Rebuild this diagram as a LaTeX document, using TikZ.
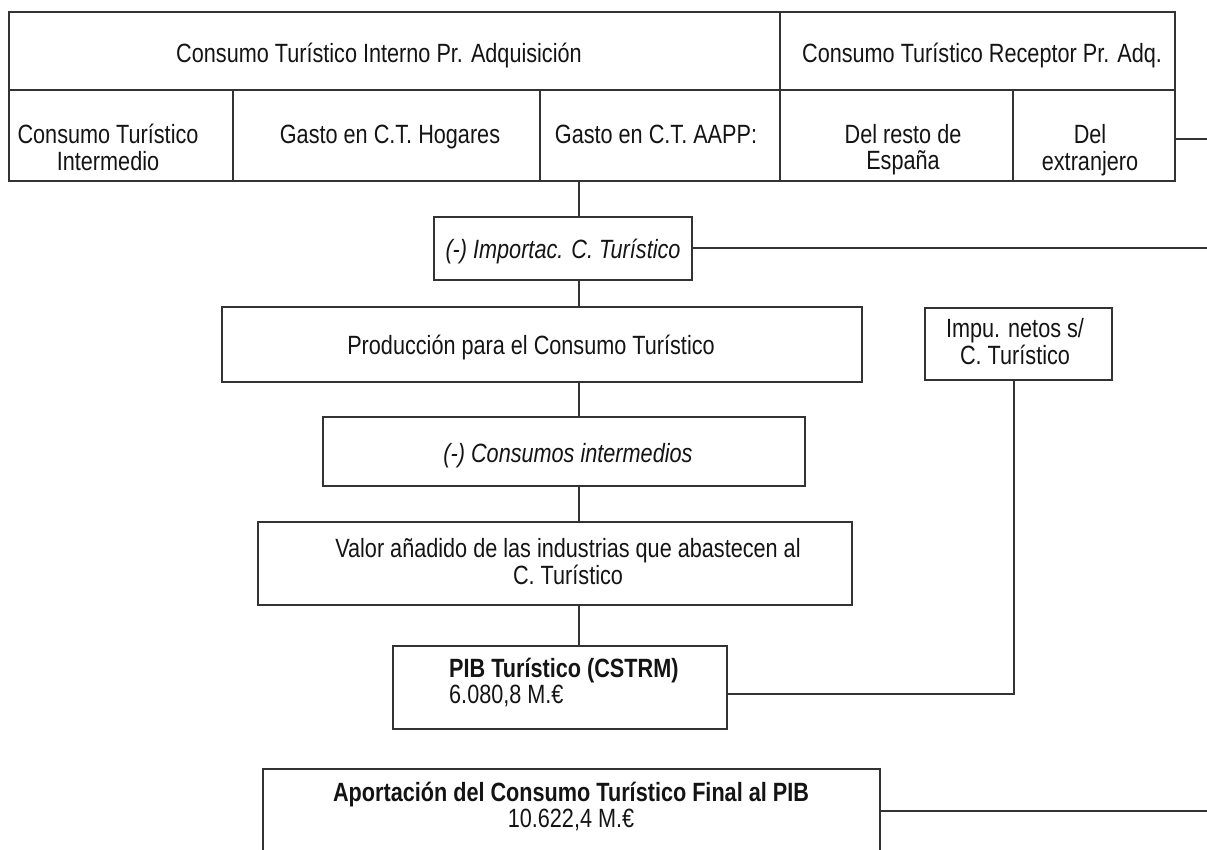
\documentclass[tikz,border=0pt]{standalone}
\usepackage{fontspec}
\setmainfont{Liberation Sans}[FakeStretch=0.82]
\newcommand\diafont{\fontsize{26.5}{26.5}\selectfont}
% two lines, first baseline is the node baseline
\newcommand\twolines[3][c]{\begin{tabular}[t]{@{}#1@{}}#2\\#3\end{tabular}}
\begin{document}
\begin{tikzpicture}[x=1bp,y=-1bp,
  box/.style={draw=black!80, line width=1.8bp, inner sep=0pt, outer sep=0pt, anchor=north west},
  txt/.style={font=\diafont, inner sep=0pt, text=black!92, anchor=base},
  link/.style={draw=black!80, line width=1.4bp}]
\useasboundingbox (0,0) rectangle (1207,850);

% box from (x1,y1) to (x2,y2)
\newcommand\flowbox[5]{\node[box, minimum width={(#4-#2)*1bp}, minimum height={(#5-#3)*1bp}] (#1) at (#2,#3) {};}

% header table
\flowbox{ti}{9}{12}{780}{90}
\flowbox{tr}{780}{12}{1175}{90}
\flowbox{c1}{9}{90}{233}{181}
\flowbox{c2}{233}{90}{540}{181}
\flowbox{c3}{540}{90}{780}{181}
\flowbox{c4}{780}{90}{1013}{181}
\flowbox{c5}{1013}{90}{1175}{181}

\node[txt] (tti) at (379,62) {Consumo Turístico Interno Pr. Adquisición};
\node[txt] (ttr) at (982,62) {Consumo Turístico Receptor Pr. Adq.};
\node[txt] (tc1) at (108,143) {\twolines{Consumo Turístico}{Intermedio}};
\node[txt] (tc2) at (390,143) {Gasto en C.T. Hogares};
\node[txt] (tc3) at (656,143) {Gasto en C.T. AAPP:};
\node[txt] (tc4) at (903,143) {\twolines{Del resto de}{España}};
\node[txt] (tc5) at (1090,143) {\twolines{Del}{extranjero}};

% flow boxes
\flowbox{imp}{434}{217}{692}{280}
\node[txt, font=\diafont\itshape] (timp) at (563,258) {(-) Importac. C. Turístico};

\flowbox{prod}{222}{307}{862}{382}
\node[txt] (tprod) at (531,354) {Producción para el Consumo Turístico};

\flowbox{impu}{925}{308}{1112}{380}
\node[txt] (timpu) at (1015,337) {\twolines{Impu. netos s/}{C. Turístico}};

\flowbox{cons}{323}{417}{805}{486}
\node[txt, font=\diafont\itshape] (tcons) at (568,462) {(-) Consumos intermedios};

\flowbox{val}{258}{522}{852}{605}
\node[txt] (tval) at (568,557) {\twolines{Valor añadido de las industrias que abastecen al}{C. Turístico}};

\flowbox{pib}{393}{646}{727}{729}
\node[txt, anchor=base west] (tpib) at (449,677) {\twolines[l]{\textbf{PIB Turístico (CSTRM)}}{6.080,8 M.€}};

\flowbox{apo}{263}{769}{880}{880}
\node[txt] (tapo) at (571,801) {\twolines{\textbf{Aportación del Consumo Turístico Final al PIB}}{10.622,4 M.€}};

% connectors
\coordinate (spine) at (579,0);
\coordinate (eR1) at (1207,139);
\coordinate (eR2) at (1207,248);
\coordinate (eR3) at (1207,811);
\coordinate (tax) at (1014,694);
\draw[link] (spine |- c3.south) -- (imp.north -| spine);
\draw[link] (imp.south -| spine) -- (prod.north -| spine);
\draw[link] (prod.south -| spine) -- (cons.north -| spine);
\draw[link] (cons.south -| spine) -- (val.north -| spine);
\draw[link] (val.south -| spine) -- (pib.north -| spine);
\draw[link] (c5.east |- eR1) -- (eR1);
\draw[link] (imp.east |- eR2) -- (eR2);
\draw[link] (apo.east |- eR3) -- (eR3);
\draw[link] (impu.south -| tax) -- (tax) -- (pib.east |- tax);
\end{tikzpicture}
\end{document}
